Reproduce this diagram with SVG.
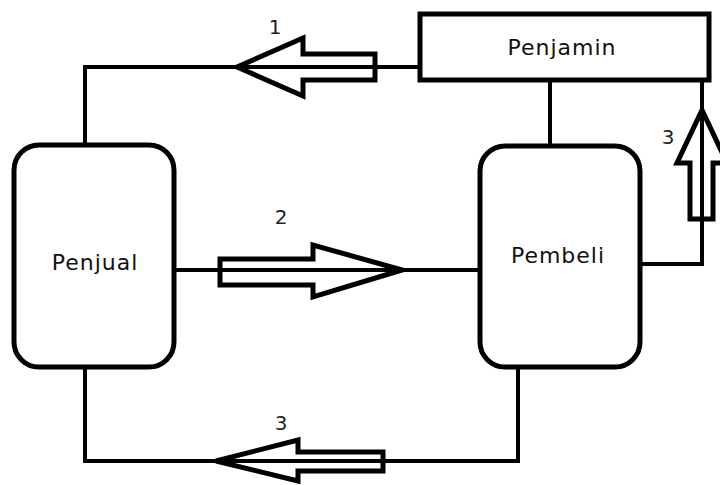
<svg xmlns="http://www.w3.org/2000/svg" width="720" height="485" viewBox="0 0 720 485">
<style>
.box{fill:#fff;stroke:#000;stroke-width:5}
.line{fill:none;stroke:#000;stroke-width:4}
.arr{fill:none;stroke:#000;stroke-width:5;stroke-linejoin:miter}
.lbl{font-family:"Comic Sans MS","DejaVu Sans",sans-serif;font-size:22px;letter-spacing:1px;fill:#111;text-anchor:middle}
.num{font-family:"Comic Sans MS","DejaVu Sans",sans-serif;font-size:20px;fill:#222;text-anchor:middle}
</style>
<rect width="720" height="485" fill="#fff"/>
<g id="connectors">
<polyline class="line" points="420,67 85,67 85,145"/>
<line class="line" x1="550" y1="80" x2="550" y2="146"/>
<line class="line" x1="173" y1="270" x2="480" y2="270"/>
<polyline class="line" points="640,264 702,264 702,80"/>
<polyline class="line" points="85,367 85,461 518,461 518,367"/>
<polygon class="arr" points="237,67 303,38 303,54 375,54 375,80 303,80 303,96"/>
<polygon class="arr" points="402,270 313,245 313,259 220,259 220,285 313,285 313,297"/>
<polygon class="arr" points="216,461 298,440 298,452 383,452 383,471 298,471 298,481"/>
<polygon class="arr" points="702,110 677,163 690,163 690,219 713,219 713,163 727,163"/>
<text class="num" x="275" y="34">1</text>
<text class="num" x="281" y="224">2</text>
<text class="num" x="281" y="430">3</text>
<text class="num" x="668" y="144">3</text>
</g>
<g id="penjamin">
<rect class="box" x="420" y="14" width="289" height="66"/>
<text class="lbl" x="562" y="55">Penjamin</text>
</g>
<g id="penjual">
<rect class="box" x="14" y="145" width="160" height="222" rx="25"/>
<text class="lbl" x="95" y="270">Penjual</text>
</g>
<g id="pembeli">
<rect class="box" x="480" y="146" width="160" height="221" rx="25"/>
<text class="lbl" x="558" y="263">Pembeli</text>
</g>
</svg>
